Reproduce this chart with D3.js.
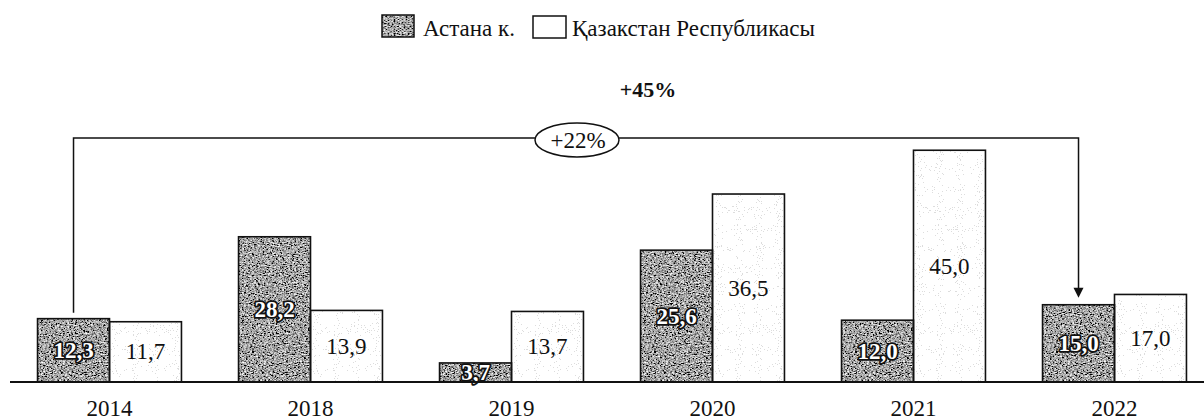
<!DOCTYPE html>
<html>
    <head>
        <meta charset="utf-8">
        <script src="https://d3js.org/d3.v7.min.js"></script>
        <style>
            body{margin:0;background:#fff;}
        </style>
    </head>
    <body>
        <svg height="420" width="1204" id="chart"></svg>
        <script>
            // data
            const years=["2014","2018","2019","2020","2021","2022"];
            const astana=[12.3, 28.2, 3.7, 25.6, 12.0, 15.0];
            const kazakhstan=[11.7, 13.9, 13.7, 36.5, 45.0, 17.0];
            const seriesNames=["Астана к.", "Қазакстан Республикасы"];
            const seriesKeys=["astana", "kaz"];

            const serif="'Liberation Serif', 'DejaVu Serif', 'Times New Roman', serif";

            let svg=d3.select("#chart").attr("font-family", serif);
            let width=+svg.attr("width");
            let baseY=382;

            // textures
            let defs=svg.append("defs");
            let grain=defs.append("filter").attr("id","grain")
                .attr("x",0).attr("y",0).attr("width","100%").attr("height","100%");
            grain.append("feTurbulence").attr("type","fractalNoise")
                .attr("baseFrequency","0.5 0.9").attr("numOctaves",3).attr("seed",4).attr("result","n");
            grain.append("feColorMatrix").attr("in","n").attr("type","matrix")
                .attr("values","1.9 0 0 0 -0.58  1.9 0 0 0 -0.58  1.9 0 0 0 -0.58  0 0 0 0 1")
                .attr("result","g");
            grain.append("feComposite").attr("in","g").attr("in2","SourceGraphic").attr("operator","in");

            let dots=defs.append("filter").attr("id","dots")
                .attr("x",0).attr("y",0).attr("width","100%").attr("height","100%");
            dots.append("feTurbulence").attr("type","fractalNoise")
                .attr("baseFrequency","0.95").attr("numOctaves",1).attr("seed",7).attr("result","n");
            dots.append("feColorMatrix").attr("in","n").attr("type","matrix")
                .attr("values","0 0 0 0 0.45  0 0 0 0 0.45  0 0 0 0 0.45  8 0 0 0 -4.5")
                .attr("result","a");
            dots.append("feComponentTransfer").attr("in","a").attr("result","d")
                .append("feFuncA").attr("type","discrete").attr("tableValues","0 0 0 0 0 0 0 0 0 0 0 0.5");
            dots.append("feFlood").attr("flood-color","#fff").attr("result","w");
            dots.append("feMerge").attr("result","m").call(m=>{
                m.append("feMergeNode").attr("in","w");
                m.append("feMergeNode").attr("in","d");
            });
            dots.append("feComposite").attr("in","m").attr("in2","SourceGraphic").attr("operator","in");

            let x0=d3.scaleBand().domain(years).range([9, 1215])
                .paddingInner(0.284).paddingOuter(0.142);
            let x1=d3.scaleBand().domain(seriesKeys).range([0, x0.bandwidth()]);
            let y=d3.scaleLinear().domain([0, 45]).range([baseY, baseY-45*5.15]);

            let rows=years.map((yr,i)=>({year:yr, values:[
                {key:"astana", v:astana[i]},
                {key:"kaz", v:kazakhstan[i]}
            ]}));

            let groups=svg.append("g").selectAll("g").data(rows).join("g")
                .attr("transform", d=>`translate(${x0(d.year)},0)`);

            groups.selectAll("rect.fill").data(d=>d.values).join("rect")
                .attr("class","fill")
                .attr("x", d=>x1(d.key)).attr("y", d=>y(d.v))
                .attr("width", x1.bandwidth()).attr("height", d=>baseY-y(d.v))
                .attr("fill","#000")
                .attr("filter", d=>d.key=="astana" ? "url(#grain)" : "url(#dots)");

            groups.selectAll("rect.edge").data(d=>d.values).join("rect")
                .attr("class","edge")
                .attr("x", d=>x1(d.key)).attr("y", d=>y(d.v))
                .attr("width", x1.bandwidth()).attr("height", d=>baseY-y(d.v))
                .attr("fill","none").attr("stroke","#111").attr("stroke-width",1.6);

            groups.selectAll("text.val").data(d=>d.values).join("text")
                .attr("class","val")
                .attr("x", d=>x1(d.key)+x1.bandwidth()/2)
                .attr("y", d=>(y(d.v)+baseY)/2)
                .attr("text-anchor","middle").attr("dominant-baseline","central")
                .style("font-size","23px")
                .style("font-weight", d=>d.key=="astana" ? "bold" : "normal")
                .style("fill", d=>d.key=="astana" ? "#fff" : "#111")
                .style("stroke", d=>d.key=="astana" ? "#111" : "none")
                .style("stroke-width", 3.5)
                .style("stroke-linejoin","round")
                .style("paint-order","stroke")
                .text(d=>d3.format(".1f")(d.v).replace(".", ","));

            // baseline
            svg.append("line").attr("x1",10).attr("x2",width).attr("y1",baseY).attr("y2",baseY)
                .attr("stroke","#111").attr("stroke-width",2);

            // year labels
            svg.append("g").selectAll("text").data(years).join("text")
                .attr("x", d=>x0(d)+x0.bandwidth()/2).attr("y",416)
                .attr("text-anchor","middle")
                .style("font-size","23px").style("fill","#111")
                .text(d=>d);

            // bracket 2014 -> 2022
            let xa=x0("2014")+x1("astana")+x1.bandwidth()/2;
            let xb=x0("2022")+x1("astana")+x1.bandwidth()/2;
            let yTop=138;
            let tip=y(astana[5])-7;
            svg.append("path")
                .attr("d", `M${xa},${y(astana[0])-6}V${yTop}H${xb}V${tip-8}`)
                .attr("fill","none").attr("stroke","#111").attr("stroke-width",1.5);
            svg.append("path")
                .attr("d", `M${xb-5},${tip-10}L${xb+5},${tip-10}L${xb},${tip}Z`)
                .attr("fill","#111");

            svg.append("ellipse").attr("cx",577).attr("cy",140).attr("rx",42).attr("ry",17)
                .attr("fill","#fff").attr("stroke","#111").attr("stroke-width",1.5);
            svg.append("text").attr("x",578).attr("y",148).attr("text-anchor","middle")
                .style("font-size","23px").style("fill","#111").text("+22%");
            svg.append("text").attr("x",648).attr("y",97).attr("text-anchor","middle")
                .style("font-size","22px").style("font-weight","bold").style("fill","#111").text("+45%");

            // legend
            let legend=svg.append("g");
            legend.append("rect").attr("x",382).attr("y",15).attr("width",32).attr("height",22)
                .attr("fill","#000").attr("filter","url(#grain)");
            legend.append("rect").attr("x",382).attr("y",15).attr("width",32).attr("height",22)
                .attr("fill","none").attr("stroke","#111").attr("stroke-width",1.5);
            legend.append("text").attr("x",423).attr("y",36)
                .style("font-size","23px").style("fill","#111").text(seriesNames[0]);
            legend.append("rect").attr("x",533).attr("y",16).attr("width",33).attr("height",22)
                .attr("fill","#fff").attr("stroke","#111").attr("stroke-width",1.5);
            legend.append("text").attr("x",572).attr("y",36)
                .style("font-size","23px").style("fill","#111").text(seriesNames[1]);
        </script>
    </body>
</html>
